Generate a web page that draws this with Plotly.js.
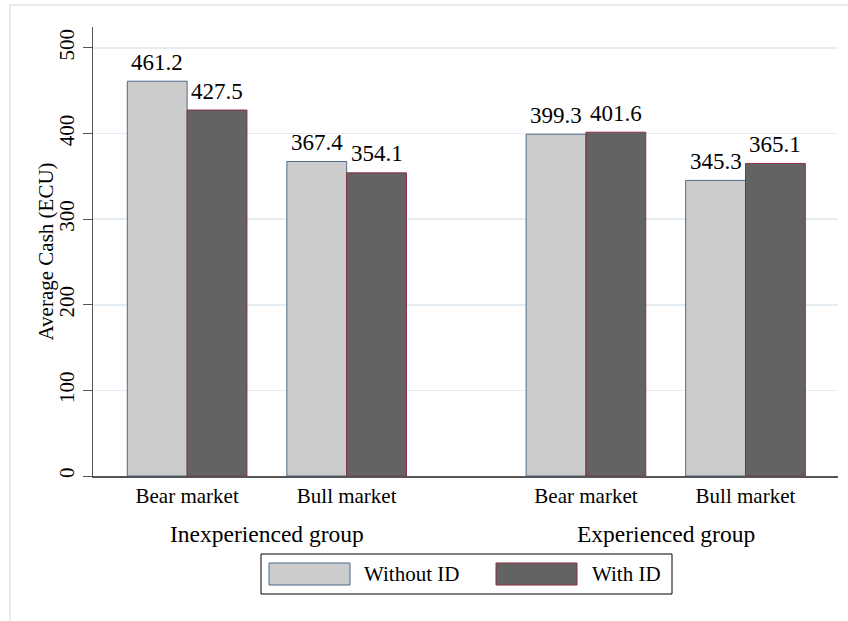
<!DOCTYPE html>
<html>
<head>
<meta charset="utf-8">
<script src="https://cdn.plot.ly/plotly-3.0.1.min.js"></script>
<style>
  html, body { margin: 0; padding: 0; background: #ffffff; }
  #chart { width: 848px; height: 621px; }
</style>
</head>
<body>
<div id="chart"></div>
<script>
// ---- data ----
const groups = ["Inexperienced group", "Experienced group"];
const markets = ["Bear market", "Bull market"];
const seriesNames = ["Without ID", "With ID"];
const withoutID = [461.2, 367.4, 399.3, 345.3];
const withID = [427.5, 354.1, 401.6, 365.1];
const yTickVals = [0, 100, 200, 300, 400, 500];
const yTitle = "Average Cash (ECU)";

// ---- layout geometry ----
const W = 848, H = 621;
const M = { l: 93, r: 10, t: 27, b: 145 };
const PW = W - M.l - M.r, PH = H - M.t - M.b;
const px = x => (x - M.l) / PW;          // pixel -> paper x
const py = y => (H - M.b - y) / PH;      // pixel -> paper y

const groupStep = 2.5;
const barW = 0.375;
const xs = [], tickText = [];
groups.forEach((g, gi) => markets.forEach((m, mi) => {
  xs.push(gi * groupStep + mi);
  tickText.push(m);
}));

const FONT = "Liberation Serif, Times New Roman, serif";
const fillA = "#cccccc", lineA = "#4a6a8c";
const fillB = "#636363", lineB = "#8c2f3f";

const traces = [
  {
    type: "bar", name: seriesNames[0], x: xs, y: withoutID,
    width: barW, offset: -barW,
    marker: { color: fillA, line: { color: lineA, width: 1 } },
    hoverinfo: "skip"
  },
  {
    type: "bar", name: seriesNames[1], x: xs, y: withID,
    width: barW, offset: 0,
    marker: { color: fillB, line: { color: lineB, width: 1 } },
    hoverinfo: "skip"
  }
];

const annotations = [];
// value labels above bars
[[withoutID, -barW / 2], [withID, barW / 2]].forEach(([vals, dx]) => {
  vals.forEach((v, i) => {
    annotations.push({
      xref: "x", yref: "y", x: xs[i] + dx, y: v,
      text: v.toFixed(1), showarrow: false,
      xanchor: "center", yanchor: "middle", yshift: 19,
      font: { family: FONT, size: 23, color: "#000" }
    });
  });
});
groups.forEach((g, gi) => {
  const c = gi * groupStep + (markets.length - 1) / 2;
  annotations.push({
    xref: "x", yref: "paper", x: c, y: py(534),
    text: g, showarrow: false, xanchor: "center", yanchor: "middle",
    font: { family: FONT, size: 23.5, color: "#000" }
  });
});
annotations.push({
  xref: "paper", yref: "paper", x: px(45), y: py(251.5),
  text: yTitle, showarrow: false, textangle: -90,
  xanchor: "center", yanchor: "middle",
  font: { family: FONT, size: 21, color: "#000" }
});
// legend labels
annotations.push({
  xref: "paper", yref: "paper", x: px(362), y: py(574),
  text: seriesNames[0], showarrow: false, xanchor: "left", yanchor: "middle",
  font: { family: FONT, size: 21, color: "#000" }
});
annotations.push({
  xref: "paper", yref: "paper", x: px(590), y: py(574),
  text: seriesNames[1], showarrow: false, xanchor: "left", yanchor: "middle",
  font: { family: FONT, size: 21, color: "#000" }
});

const shapes = [
  // outer graph frame (partly cropped in original)
  { type: "rect", xref: "paper", yref: "paper", layer: "below",
    x0: px(10), x1: px(W + 40), y0: py(5), y1: py(H + 40),
    line: { color: "#e5ecf0", width: 2 }, fillcolor: "rgba(0,0,0,0)" },
  // legend box
  { type: "rect", xref: "paper", yref: "paper",
    x0: px(261), x1: px(672), y0: py(554), y1: py(594),
    line: { color: "#000", width: 1 }, fillcolor: "#ffffff" },
  { type: "rect", xref: "paper", yref: "paper",
    x0: px(269), x1: px(350), y0: py(563), y1: py(585),
    line: { color: lineA, width: 1 }, fillcolor: fillA },
  { type: "rect", xref: "paper", yref: "paper",
    x0: px(496), x1: px(577), y0: py(563), y1: py(585),
    line: { color: lineB, width: 1 }, fillcolor: fillB }
];

const layout = {
  width: W, height: H,
  margin: M,
  paper_bgcolor: "#ffffff", plot_bgcolor: "#ffffff",
  showlegend: false,
  barmode: "overlay",
  font: { family: FONT, size: 21, color: "#000" },
  xaxis: {
    type: "linear",
    range: [-0.59, 4.08],
    tickvals: xs, ticktext: tickText,
    ticks: "", showgrid: false, zeroline: false,
    showline: true, linecolor: "#555555", linewidth: 1.5,
    tickfont: { family: FONT, size: 21, color: "#000" },
    fixedrange: true
  },
  yaxis: {
    range: [0, 524.5],
    tickvals: yTickVals, ticktext: yTickVals.map(String),
    ticks: "outside", ticklen: 9, tickcolor: "#555555", tickwidth: 1,
    tickangle: -90,
    showgrid: true, gridcolor: "#e6edf2", gridwidth: 1.5,
    zeroline: false,
    showline: true, linecolor: "#555555", linewidth: 1.5,
    tickfont: { family: FONT, size: 21, color: "#000" },
    fixedrange: true
  },
  annotations: annotations,
  shapes: shapes
};

Plotly.newPlot("chart", traces, layout, { displayModeBar: false, staticPlot: true });
</script>
</body>
</html>
